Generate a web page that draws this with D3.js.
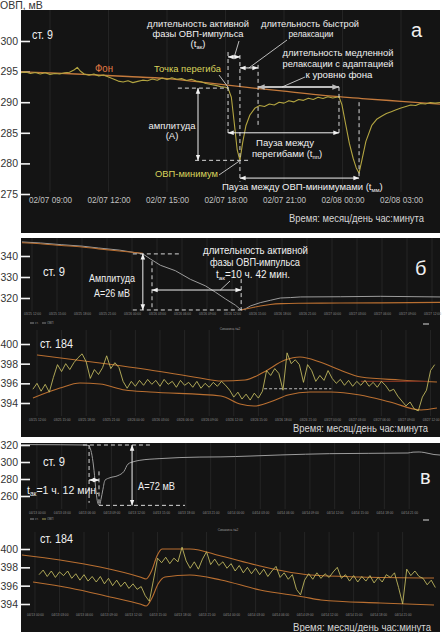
<!DOCTYPE html>
<html><head><meta charset="utf-8">
<script src="https://cdn.jsdelivr.net/npm/d3@7/dist/d3.min.js"></script>
<style>
html,body{margin:0;padding:0;background:#ffffff;}
svg{display:block;font-family:"Liberation Sans",Arial,Helvetica,sans-serif;}
</style></head><body>
<svg id="chart" width="442" height="635"></svg>
<script>
// ================= DATA =================
// Panel а (ст. 9), hours since 02/07 00:00
const aTickHours = [9, 12, 15, 18, 21, 24, 27];
const aTickLabels = ["02/07 09:00","02/07 12:00","02/07 15:00","02/07 18:00","02/07 21:00","02/08 00:00","02/08 03:00"];
const aYTicks = [300, 295, 290, 285, 280, 275];
const aFonHours = [7.5, 9, 11, 13, 15, 17, 19, 21, 23, 25, 27, 29];
const aFonValues = [294.95, 294.8, 294.5, 294.2, 293.85, 293.2, 292.45, 291.8, 291.1, 290.6, 290.15, 289.7];
const aOvpHours = [7.5,7.75,8,8.25,8.5,8.75,9,9.25,9.5,9.75,
  10,10.25,10.4,10.55,10.75,11,11.25,11.5,11.75,12,
  12.25,12.5,12.75,13,13.25,13.5,13.75,14,14.25,14.5,
  14.75,15,15.25,15.5,15.75,16,16.25,16.5,16.75,17,
  17.25,17.5,17.75,18,18.13,18.3,18.45,18.6,18.74,18.88,
  19.05,19.25,19.5,19.75,20,20.25,20.5,20.75,21,21.25,
  21.5,21.75,22,22.25,22.5,22.75,23,23.25,23.5,23.82,
  23.97,24.15,24.35,24.55,24.7,24.85,25,25.2,25.5,25.75,
  26,26.25,26.5,26.75,27,27.25,27.5,27.75,28,28.25,
  28.5,28.75,29];
const aOvpValues = [294.8,294.95,294.7,294.85,294.6,294.8,294.55,294.7,294.6,294.8,
  294.9,295.3,295.7,295.1,294.6,294.4,294.6,294.3,294.45,294.1,
  293.8,293.45,293.3,293.5,293.2,293.4,293.6,293.5,293.8,293.6,
  293.95,293.7,294.0,293.75,293.85,293.55,293.75,293.45,293.35,293.05,
  292.9,292.75,292.55,292.45,292.3,290.8,286.6,282.2,280.5,283.4,
  286.2,287.9,289.0,289.45,289.3,289.7,289.55,290.0,289.85,290.25,
  290.05,290.45,290.3,290.65,290.45,290.8,290.6,290.9,290.7,290.9,
  289.6,286.6,283.3,280.8,279.3,278.4,280.6,283.6,286.2,287.2,
  287.7,288.15,288.45,288.75,289.05,289.3,289.55,289.45,289.8,289.7,
  289.95,289.85,289.95];
// key moments of panel а (hours / mV)
const aKeyHours = {infl1: 18.13, min1: 18.74, fastEnd: 19.67, infl2: 23.82, min2: 24.85};
const aKeyValues = {infl: 292.3, min1: 280.5, min2: 278.4};

// Panel б, upper (ст. 9), hours from first tick
const bTicks = ["03/25 12:00","03/25 15:00","03/25 18:00","03/25 21:00","03/26 00:00","03/26 03:00","03/26 06:00","03/26 09:00","03/26 12:00","03/26 15:00","03/26 18:00","03/26 21:00","03/27 00:00","03/27 03:00","03/27 06:00","03/27 09:00","03/27 12:00"];
const bTickHours = [0,3,6,9,12,15,18,21,24,27,30,33,36,39,42,45,48];
const bTopYTicks = [340, 330, 320];
const bTopHours = [-1.2, 1, 3.5, 6, 8, 10.5, 13.3, 14.2, 15.4, 17.2, 19, 20.8, 22, 23.2, 24.4, 25.1, 25.6, 26.2, 27.4, 28.6, 29.8, 31, 32.2, 37, 41.8, 49];
const bTopOvp = [346.7, 346.2, 345.4, 344.7, 343.8, 342.8, 341.0, 338.6, 335.6, 333.0, 328.9, 325.8, 322.8, 319.6, 316.6, 314.3, 314.8, 316.2, 317.8, 318.9, 320.0, 320.2, 320.5, 320.6, 320.8, 320.5];
const bTrendHours = [-1.2, 1, 3.5, 6, 8, 10.5, 13.3, 19, 25.1, 26.2, 27.4, 28.6, 29.9, 32, 37, 41.8, 49];
const bTrendValues = [346.3, 345.8, 345.0, 344.3, 343.4, 342.4, 341.3, null, 314.3, 315.2, 316.2, 316.9, 317.3, 317.5, 317.6, 317.7, 317.9];
const bKeyHours = {infl: 13.3, start: 14.4, min: 25.1};
const bKeyValues = {infl: 341.0, min: 314.3};

// Panel б, lower (ст. 184)
const bLowYTicks = [400, 398, 396, 394];
const bLowStartHour = -0.5, bLowStepHour = 0.5;
const bLowOvp = [395.4, 396.0, 395.2, 395.9, 395.1, 396.6, 397.9, 397.2, 398.0, 397.4,
 398.1, 398.6, 399.0, 398.2, 396.5, 397.4, 396.9, 397.6, 398.8, 397.5,
 398.1, 397.6, 396.2, 395.5, 396.2, 395.7, 396.3, 395.8, 396.4, 395.9,
 396.3, 395.7, 396.4, 395.9, 396.2, 395.6, 396.3, 395.8, 396.1, 395.6,
 396.2, 395.5, 396.0, 395.6, 396.1, 395.7, 396.2, 395.8, 395.3, 394.6,
 395.1, 394.4, 394.9, 394.3, 395.0, 394.5, 395.2, 397.3, 396.8, 397.5,
 397.0, 395.3, 399.1, 398.0, 398.4, 397.9, 396.1, 397.9, 397.3, 396.2,
 396.8, 396.3, 397.3, 396.5, 396.0, 396.4, 395.8, 396.3, 395.7, 396.2,
 395.8, 396.3, 395.7, 396.1, 395.6, 396.2, 395.8, 395.2, 395.4, 394.7,
 394.2, 393.7, 394.1, 393.4, 393.2, 394.6, 395.3, 397.3, 397.9];
const bUpperHours = [0, 7.68, 13.78, 19.88, 22.44, 25.37, 27.68, 30.24, 32.07, 34.51, 36.95, 39.51, 44.27, 48.78];
const bUpperValues = [398.88, 398.07, 397.36, 396.54, 396.24, 396.34, 397.15, 398.37, 398.68, 398.17, 397.36, 396.64, 396.34, 396.13];
const bLowerHours = [-0.49, 2.8, 5.24, 7.68, 10.73, 13.78, 22.44, 24.76, 26.46, 28.41, 30.61, 33.29, 35.85, 39.39, 43.05, 46.83, 48.78];
const bLowerValues = [394.51, 395.52, 396.03, 395.93, 395.32, 395.12, 394.71, 393.9, 393.69, 394.1, 394.81, 395.12, 395.12, 394.81, 394.1, 393.29, 393.49];
const bLevelHours = [27.7, 35.9];
const bLevelValue = 395.45;
const bRedHours = [39.5, 47.7];
const bRedValue = 396.2;

// Panel в, upper (ст. 9)
const vTicks = ["04/13 00:00","04/13 03:00","04/13 06:00","04/13 09:00","04/13 12:00","04/13 15:00","04/13 18:00","04/13 21:00","04/14 00:00","04/14 03:00","04/14 06:00","04/14 09:00","04/14 12:00","04/14 15:00","04/14 18:00","04/14 21:00"];
const vTickHours = [0,3,6,9,12,15,18,21,24,27,30,33,36,39,42,45];
const vTopYTicks = [320, 300, 280, 260];
const vTopHours = [-1.9, 2.8, 5.9, 6.2, 6.4, 6.65, 6.9, 7.13, 7.38, 7.56, 7.74, 7.98, 8.22, 8.83, 9.79, 10.52, 11.0, 11.73, 12.45, 14.87, 19.71, 22.25, 25.76, 29.5, 35.4, 44.86, 45.47, 46.2, 46.8, 48.0, 48.73];
const vTopOvp = [320.5, 320.3, 320.0, 319.6, 317.0, 308.0, 290.0, 266.0, 251.0, 249.0, 256.0, 268.0, 278.5, 281.5, 284.0, 289.0, 297.5, 300.5, 302.0, 304.0, 305.8, 306.0, 307.0, 308.3, 309.8, 310.6, 311.6, 311.8, 311.2, 308.8, 308.2];
const vKeyHours = {start: 6.3, min: 7.5};
const vKeyValues = {top: 320, min: 249};

// Panel в, lower (ст. 184)
const vLowYTicks = [400, 398, 396, 394];
const vLowStartHour = 0.5, vLowStepHour = 0.5;
const vLowOvp = [397.2, 397.7, 397.0, 397.6, 396.9, 397.5, 397.1, 397.6, 396.8, 397.3,
 396.6, 397.2, 396.5, 397.0, 396.4, 397.0, 396.2, 396.8, 396.0, 396.6,
 395.9, 396.4, 395.7, 396.2, 395.6, 395.9, 394.9, 394.3, 396.6, 399.0,
 398.5, 399.1, 398.4, 399.0, 398.6, 400.2, 398.7, 397.9, 398.6, 397.8,
 398.9, 399.7, 398.3, 398.9, 398.2, 398.6, 397.9, 398.4, 397.6, 398.2,
 397.4, 398.0, 397.3, 397.9, 397.2, 397.8, 397.0, 397.6, 398.1, 396.9,
 397.4, 396.7, 397.2, 395.6, 395.0, 396.6, 397.3, 396.7, 397.4, 396.8,
 397.3, 396.9, 397.5, 398.0, 396.8, 397.2, 396.5, 397.1, 396.4, 397.0,
 396.5, 397.1, 396.3, 396.9, 396.4, 397.2, 396.9, 397.4, 395.8, 394.0,
 397.8, 397.1, 397.6, 397.0, 396.8, 396.1, 396.6, 395.8];
const vUpperHours = [-1.59, 3.06, 7.96, 12.85, 13.59, 14.32, 14.93, 15.55, 18.97, 22.77, 27.54, 33.78, 39.78, 48.84];
const vUpperValues = [399.35, 398.8, 398.04, 396.95, 396.73, 397.71, 399.24, 400.0, 400.0, 399.24, 398.15, 397.16, 396.95, 396.84];
const vLowerHours = [-0.24, 4.28, 9.18, 12.85, 13.59, 14.32, 15.06, 15.91, 18.97, 22.77, 27.54, 32.93, 35.0, 42.23, 48.84];
const vLowerValues = [396.4, 395.75, 394.77, 394.0, 393.78, 394.66, 396.18, 396.95, 397.16, 396.62, 395.53, 394.77, 394.44, 394.11, 393.89];

// ================= DRAWING =================
const FONT = '"Liberation Sans", Arial, Helvetica, sans-serif';
const C = {bg:"#141414", fon:"#c47a3c", ovpA:"#b3a541", ovpY:"#c8bf62", env:"#b96f31",
  gray:"#9c9c9c", white:"#f0f0f0", grid:"#252525", dash:"#d8d8d8", tick:"#8d8d8d"};
const svg = d3.select("#chart");
const defs = svg.append("defs");
defs.append("marker").attr("id","ah").attr("viewBox","0 0 10 10").attr("refX",9.5).attr("refY",5)
  .attr("markerWidth",6).attr("markerHeight",6).attr("markerUnits","userSpaceOnUse")
  .attr("orient","auto-start-reverse")
  .append("path").attr("d","M0,1.2L10,5L0,8.8Z").attr("fill","#f2f2f2");
defs.append("marker").attr("id","ahg").attr("viewBox","0 0 10 10").attr("refX",9.5).attr("refY",5)
  .attr("markerWidth",7).attr("markerHeight",7).attr("markerUnits","userSpaceOnUse")
  .attr("orient","auto-start-reverse")
  .append("path").attr("d","M0,1.2L10,5L0,8.8Z").attr("fill","#bdbdbd");

// panel backgrounds
[[10,233],[238,437],[443,632]].forEach(p => svg.append("rect").attr("x",21).attr("y",p[0])
  .attr("width",419).attr("height",p[1]-p[0]).attr("fill",C.bg));

function clip(id, y0, y1) {
  defs.append("clipPath").attr("id",id).append("rect").attr("x",21).attr("y",y0).attr("width",419).attr("height",y1-y0);
  return "url(#"+id+")";
}
function drawLine(x, y, hours, vals, color, w, cp, curve) {
  const idx = d3.range(vals.length);
  svg.append("path").datum(idx)
    .attr("d", d3.line().defined(i => vals[i] !== null).x(i => x(hours[i])).y(i => y(vals[i])).curve(curve || d3.curveLinear))
    .attr("fill","none").attr("stroke",color).attr("stroke-width",w).attr("stroke-linejoin","round").attr("clip-path",cp);
}
function drawSeries(x, y, start, step, vals, color, w, cp) {
  const idx = d3.range(vals.length);
  svg.append("path").datum(idx)
    .attr("d", d3.line().x(i => x(start + i*step)).y(i => y(vals[i])))
    .attr("fill","none").attr("stroke",color).attr("stroke-width",w).attr("stroke-linejoin","round").attr("clip-path",cp);
}
function leftAxis(y, ticks) {
  const g = svg.append("g").attr("transform","translate(21,0)")
    .call(d3.axisLeft(y).tickValues(ticks).tickFormat(d3.format("d")).tickSize(-9).tickPadding(3));
  g.attr("font-family", FONT).attr("font-size", 10.5);
  g.select(".domain").remove();
  g.selectAll(".tick line").attr("stroke","#f4f4f4").attr("stroke-width",1.6);
  g.selectAll(".tick text").attr("fill","#333");
}
function grid(x, hours, y0, y1) {
  hours.forEach(h => svg.append("line").attr("x1",x(h)).attr("x2",x(h)).attr("y1",y0).attr("y2",y1)
    .attr("stroke",C.grid).attr("stroke-width",1));
}
function tinyAxis(x, hours, labels, yPos) {
  const g = svg.append("g").attr("transform","translate(0,"+yPos+")")
    .call(d3.axisBottom(x).tickValues(hours).tickFormat((d,i) => labels[i]).tickSize(0).tickPadding(0));
  g.attr("font-family", FONT).attr("font-size", 3.2);
  g.select(".domain").remove();
  g.selectAll("text").attr("fill",C.tick);
}
function dashed(x1,y1,x2,y2) {
  svg.append("line").attr("x1",x1).attr("y1",y1).attr("x2",x2).attr("y2",y2)
    .attr("stroke",C.dash).attr("stroke-width",1).attr("stroke-dasharray","4,3");
}
function arrow(x1,y1,x2,y2,gray) {
  svg.append("line").attr("x1",x1).attr("y1",y1).attr("x2",x2).attr("y2",y2)
    .attr("stroke", gray ? "#bdbdbd" : "#f0f0f0").attr("stroke-width", gray ? 1.8 : 1)
    .attr("marker-start", gray ? "url(#ahg)" : "url(#ah)").attr("marker-end", gray ? "url(#ahg)" : "url(#ah)");
}
function pointer(x1,y1,x2,y2) {
  svg.append("line").attr("x1",x1).attr("y1",y1).attr("x2",x2).attr("y2",y2)
    .attr("stroke","#e6e6e6").attr("stroke-width",0.8);
}
function txt(x, y, s, o) {
  o = o || {};
  const t = svg.append("text").attr("x",x).attr("y",y).attr("font-family",FONT)
    .attr("font-size", o.size || 9.5).attr("fill", o.fill || "#f0f0f0")
    .attr("text-anchor", o.anchor || "start");
  if (Array.isArray(s)) {
    s.forEach(p => {
      const sp = t.append("tspan").text(p[0]);
      if (p[1] === "sub") sp.attr("font-size", (o.size || 9.5) * 0.62).attr("dy", 2);
      if (p[1] === "up") sp.attr("dy", -2);
    });
  } else t.text(s);
  if (o.w) t.attr("textLength", o.w).attr("lengthAdjust","spacingAndGlyphs");
  return t;
}

// ---------- Panel а ----------
const xa = d3.scaleLinear().domain([7.513, 29.0]).range([21, 440]);
const ya = d3.scaleLinear().domain([300, 275]).range([41, 194]);
const cpA = clip("cpA", 10, 233);
grid(xa, aTickHours, 10, 192);
leftAxis(ya, aYTicks);
const gxa = svg.append("g").attr("transform","translate(0,196)")
  .call(d3.axisBottom(xa).tickValues(aTickHours).tickFormat((d,i) => aTickLabels[i]).tickSize(0).tickPadding(0));
gxa.attr("font-family",FONT).attr("font-size",9.5);
gxa.select(".domain").remove();
gxa.selectAll("text").attr("fill","#c2c2c2").attr("textLength",43).attr("lengthAdjust","spacingAndGlyphs");

drawLine(xa, ya, aFonHours, aFonValues, C.fon, 1.3, cpA, d3.curveMonotoneX);
drawLine(xa, ya, aOvpHours, aOvpValues, C.ovpA, 1.1, cpA);

// annotations а
const K = aKeyHours, V = aKeyValues;
dashed(xa(15.56), ya(V.infl), xa(K.infl1), ya(V.infl));
arrow(xa(16.59), ya(V.infl), xa(16.59), ya(V.min1));
dashed(xa(16.44), ya(V.min1), xa(19.26), ya(V.min1));
dashed(xa(K.infl1), ya(298.2), xa(K.infl1), ya(284.6));
dashed(xa(K.min1), ya(297.7), xa(K.min1), ya(277.0));
dashed(xa(K.fastEnd), ya(296.1), xa(K.fastEnd), ya(285.8));
dashed(xa(K.infl2), ya(292.5), xa(K.infl2), ya(284.6));
dashed(xa(K.min2), ya(290.0), xa(K.min2), ya(277.4));
arrow(xa(K.infl1), ya(297.4), xa(K.min1), ya(297.4));
arrow(xa(K.min1), ya(295.6), xa(K.fastEnd), ya(295.6));
arrow(xa(K.fastEnd), ya(292.48), xa(K.infl2), ya(292.48), true);
arrow(xa(K.infl1), ya(285.0), xa(K.infl2), ya(285.0));
arrow(xa(K.min1), ya(277.6), xa(K.min2), ya(277.6));
pointer(239, 41, xa(18.45), ya(297.4));
pointer(287, 40, xa(19.2), ya(295.6));
pointer(305, 77, xa(20.9), ya(292.48));
pointer(219, 75, xa(K.infl1), ya(V.infl) - 1);
pointer(219, 175, xa(K.min1) - 1, ya(V.min1) + 1);

txt(32, 39, "ст. 9", {size:12, w:21});
txt(411, 37, "а", {size:20});
txt(198, 27, "длительность активной", {anchor:"middle", w:102});
txt(198, 37, "фазы ОВП-импульса", {anchor:"middle", w:91});
txt(198, 47, [["(t"],["ак","sub"],[")","up"]], {anchor:"middle"});
txt(310, 27, "длительность быстрой", {anchor:"middle", w:98});
txt(311, 37, "релаксации", {anchor:"middle", w:45});
txt(338, 56, "длительность медленной", {anchor:"middle", w:111});
txt(338, 67, "релаксации с адаптацией", {anchor:"middle", w:111});
txt(339, 78, "к уровню фона", {anchor:"middle", w:67});
txt(95, 72, "Фон", {fill:"#e27b45", size:10, w:18});
txt(154, 72, "Точка перегиба", {fill:"#d9d35c", w:67});
txt(172, 129, "амплитуда", {anchor:"middle", w:47});
txt(172, 139, "(A)", {anchor:"middle"});
txt(155, 177, "ОВП-минимум", {fill:"#d9d35c", w:63});
txt(285, 146, "Пауза между", {anchor:"middle", w:58});
txt(287, 157, [["перегибами (t"],["пп","sub"],[")","up"]], {anchor:"middle"});
txt(222, 190, [["Пауза между ОВП-минимумами (t"],["мм","sub"],[")","up"]], {});
txt(424, 222, "Время: месяц/день час:минута", {anchor:"end", size:10, fill:"#d6d6d6", w:135});

// ---------- Panel б upper ----------
const xbt = d3.scaleLinear().domain([-1.32, 48.96]).range([21, 440]);
const ybt = d3.scaleLinear().domain([340, 320]).range([256, 298]);
const cpBT = clip("cpBT", 238, 318);
grid(xbt, bTickHours, 238, 311);
leftAxis(ybt, bTopYTicks);
tinyAxis(xbt, bTickHours, bTicks, 313);
drawLine(xbt, ybt, bTopHours, bTopOvp, C.gray, 1, cpBT);
drawLine(xbt, ybt, bTrendHours, bTrendValues, C.env, 1.1, cpBT, d3.curveMonotoneX);
const BK = bKeyHours, BV = bKeyValues;
dashed(xbt(12.1), ybt(BV.infl), xbt(17.8), ybt(BV.infl));
dashed(xbt(12.1), ybt(BV.min), xbt(25.6), ybt(BV.min));
arrow(xbt(BK.infl), ybt(BV.infl), xbt(BK.infl), ybt(BV.min));
dashed(xbt(BK.start), ybt(337.5), xbt(BK.start), ybt(BV.min));
arrow(xbt(BK.start), ybt(323.8), xbt(BK.min), ybt(323.8));
dashed(xbt(BK.min), ybt(329.0), xbt(BK.min), ybt(BV.min));
pointer(230, 281, xbt(22.6), ybt(323.8));
txt(43, 276, "ст. 9", {size:12.5, w:22});
txt(112, 282, "Амплитуда", {anchor:"middle", size:10.5, w:46});
txt(112, 297, "А=26 мВ", {anchor:"middle", size:10.5, w:36});
txt(203, 254, "длительность активной", {size:10, w:105});
txt(255, 266, "фазы ОВП-импульса", {anchor:"middle", size:10, w:90});
txt(253, 278, [["t"],["ак","sub"],["=10 ч. 42 мин.","up"]], {anchor:"middle", size:10});
txt(415, 275, "б", {size:20});

// tiny legend / title
function tinyLegend(x, y, c1, c2) {
  svg.append("line").attr("x1",x).attr("x2",x+4).attr("y1",y).attr("y2",y).attr("stroke",c1).attr("stroke-width",0.8);
  txt(x+5, y+1, "ст.", {size:3, fill:"#999"});
  svg.append("line").attr("x1",x+12).attr("x2",x+16).attr("y1",y).attr("y2",y).attr("stroke",c2).attr("stroke-width",0.8);
  txt(x+17, y+1, "ОВП", {size:3, fill:"#999"});
  svg.append("rect").attr("x",423).attr("y",y).attr("width",6).attr("height",2).attr("fill","#777");
}
tinyLegend(30, 323, "#aaa", C.gray);

// ---------- Panel б lower ----------
const xbl = d3.scaleLinear().domain([-1.95, 49.15]).range([21, 440]);
const ybl = d3.scaleLinear().domain([400, 394]).range([344, 403]);
const cpBL = clip("cpBL", 318, 437);
grid(xbl, bTickHours, 330, 416);
leftAxis(ybl, bLowYTicks);
tinyAxis(xbl, bTickHours, bTicks, 419);
txt(230, 330, "Скважина №2", {anchor:"middle", size:3.2, fill:"#999"});
drawLine(xbl, ybl, bUpperHours, bUpperValues, C.env, 1.1, cpBL, d3.curveMonotoneX);
drawLine(xbl, ybl, bLowerHours, bLowerValues, C.env, 1.1, cpBL, d3.curveMonotoneX);
svg.append("line").attr("x1",xbl(bRedHours[0])).attr("x2",xbl(bRedHours[1])).attr("y1",ybl(bRedValue)).attr("y2",ybl(bRedValue))
  .attr("stroke","#7a3322").attr("stroke-width",1.4);
drawSeries(xbl, ybl, bLowStartHour, bLowStepHour, bLowOvp, C.ovpY, 0.85, cpBL);
svg.append("line").attr("x1",xbl(bLevelHours[0])).attr("x2",xbl(bLevelHours[1])).attr("y1",ybl(bLevelValue)).attr("y2",ybl(bLevelValue))
  .attr("stroke","#cfcfcf").attr("stroke-width",0.9).attr("stroke-dasharray","3,2");
txt(40, 348, "ст. 184", {size:12.5, w:33});
txt(428, 432, "Время: месяц/день час:минута", {anchor:"end", size:10, fill:"#d6d6d6", w:135});

// ---------- Panel в upper ----------
const xvt = d3.scaleLinear().domain([-1.93, 48.73]).range([21, 440]);
const yvt = d3.scaleLinear().domain([320, 260]).range([445, 496]);
const cpVT = clip("cpVT", 443, 522);
grid(xvt, vTickHours, 443, 509);
leftAxis(yvt, vTopYTicks);
tinyAxis(xvt, vTickHours, vTicks, 512);
drawLine(xvt, yvt, vTopHours, vTopOvp, C.gray, 1, cpVT, d3.curveMonotoneX);
const VK = vKeyHours, VV = vKeyValues;
dashed(xvt(5.56), yvt(VV.top), xvt(13.66), yvt(VV.top));
dashed(xvt(VK.start), yvt(VV.top), xvt(VK.start), yvt(VV.min + 3));
dashed(xvt(VK.min), yvt(289), xvt(VK.min), yvt(VV.min));
dashed(xvt(VK.min), yvt(VV.min), xvt(17.9), yvt(VV.min));
arrow(xvt(11.5), yvt(VV.top), xvt(11.5), yvt(VV.min));
arrow(xvt(VK.start), yvt(278.8), xvt(VK.min), yvt(278.8));
txt(43, 466, "ст. 9", {size:12.5, w:22});
txt(27, 494, [["t"],["ак","sub"],["=1 ч. 12 мин.","up"]], {size:10.5});
txt(138, 490, "A=72 мВ", {size:10.5, w:37});
txt(420, 484, "в", {size:20});
tinyLegend(30, 519, "#aaa", C.ovpY);

// ---------- Panel в lower ----------
const xvl = d3.scaleLinear().domain([-1.71, 49.57]).range([21, 440]);
const yvl = d3.scaleLinear().domain([400, 394]).range([549, 604]);
const cpVL = clip("cpVL", 522, 632);
grid(xvl, vTickHours, 532, 612);
leftAxis(yvl, vLowYTicks);
tinyAxis(xvl, vTickHours, vTicks, 614);
txt(228, 531, "Скважина №2", {anchor:"middle", size:3.2, fill:"#999"});
drawLine(xvl, yvl, vUpperHours, vUpperValues, C.env, 1.1, cpVL, d3.curveMonotoneX);
drawLine(xvl, yvl, vLowerHours, vLowerValues, C.env, 1.1, cpVL, d3.curveMonotoneX);
drawSeries(xvl, yvl, vLowStartHour, vLowStepHour, vLowOvp, C.ovpY, 0.85, cpVL);
txt(40, 543, "ст. 184", {size:12.5, w:33});
txt(431, 631, "Время: месяц/день час:минута", {anchor:"end", size:10, fill:"#d6d6d6", w:138});

// axis title
txt(0, 9, "ОВП, мВ", {size:10.5, fill:"#333"});
</script>
</body></html>
